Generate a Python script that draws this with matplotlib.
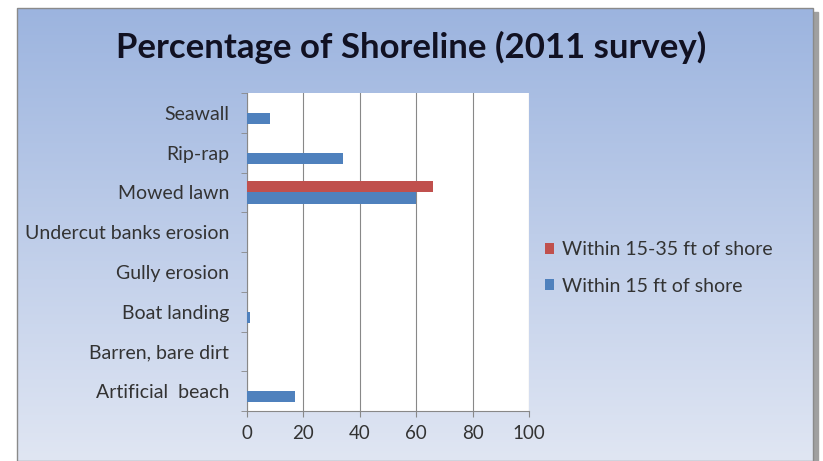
import matplotlib.pyplot as plt
import numpy as np
from matplotlib.patches import Rectangle

categories = ['Artificial  beach', 'Barren, bare dirt', 'Boat landing', 'Gully erosion',
              'Undercut banks erosion', 'Mowed lawn', 'Rip-rap', 'Seawall']
within_15 = [17, 0, 1, 0, 0, 60, 34, 8]
within_15_35 = [0, 0, 0, 0, 0, 66, 0, 0]
xticks = [0, 20, 40, 60, 80, 100]

BAR_H = 0.28
BLUE = '#4f81bd'
RED = '#c0504d'

plt.rcParams['font.family'] = ['Lato', 'DejaVu Sans']

fig = plt.figure(figsize=(8.23, 4.61), dpi=100)
W, H = 823, 461

# outer frame with gradient background
L, R, T, B = 17, 813, 8, 461
bg = fig.add_axes([L / W, 1 - B / H, (R - L) / W, (B - T) / H], zorder=0)
top = np.array([0x9c, 0xb4, 0xdf]) / 255
bot = np.array([0xe0, 0xe6, 0xf3]) / 255
t = np.linspace(0, 1, 200)[:, None]
grad = top[None, :] * (1 - t) + bot[None, :] * t
bg.imshow(grad[:, None, :].repeat(2, axis=1), aspect='auto', extent=[0, 1, 0, 1])
bg.set_axis_off()
fig.patches.append(Rectangle(((R) / W, 0), 5 / W, 1 - 12 / H, transform=fig.transFigure,
                             color='#a0a0a0', zorder=-1))
fig.patches.append(Rectangle((L / W, 0), (R - L) / W, 1 - T / H, transform=fig.transFigure,
                             fill=False, edgecolor='#8a8a8a', lw=1, zorder=5))

# plot area
pl, pr, pt, pb = 247, 529, 93, 411
ax = fig.add_axes([pl / W, 1 - pb / H, (pr - pl) / W, (pb - pt) / H], zorder=1)
ax.set_facecolor('white')
y = np.arange(len(categories))
ax.barh(y - BAR_H / 2, within_15, BAR_H, color=BLUE, label='Within 15 ft of shore', zorder=3)
ax.barh(y + BAR_H / 2, within_15_35, BAR_H, color=RED, label='Within 15-35 ft of shore', zorder=3)

ax.set_xlim(0, 100)
ax.set_ylim(-0.5, len(categories) - 0.5)
ax.set_xticks(xticks)
ax.set_xticklabels([str(v) for v in xticks], fontsize=13.5, color='#333333')
ax.set_yticks(y)
ax.set_yticklabels(categories, fontsize=14, color='#333333')
ax.set_yticks(np.arange(-0.5, len(categories), 1), minor=True)
ax.tick_params(axis='y', which='major', length=0, pad=13)
ax.tick_params(axis='y', which='minor', length=4, color='#888888')
ax.tick_params(axis='x', length=4, color='#888888', pad=6)
ax.xaxis.grid(True, color='#888888', lw=0.8, zorder=0)
ax.set_axisbelow(True)
for s in ['top', 'right']:
    ax.spines[s].set_visible(False)
for s in ['left', 'bottom']:
    ax.spines[s].set_color('#888888')

fig.text(0.5, 1 - 47 / H, 'Percentage of Shoreline (2011 survey)', ha='center', va='center',
         fontsize=25, fontweight='bold', color='#111122')

handles, labels = ax.get_legend_handles_labels()
fig.legend(handles[::-1], labels[::-1], loc='center left', bbox_to_anchor=(527 / W, 1 - 268 / H),
           frameon=False, fontsize=14, handlelength=0.5, handleheight=0.5, handletextpad=0.4,
           labelspacing=1.0, labelcolor='#333333')

fig.savefig('out.png', dpi=100)
